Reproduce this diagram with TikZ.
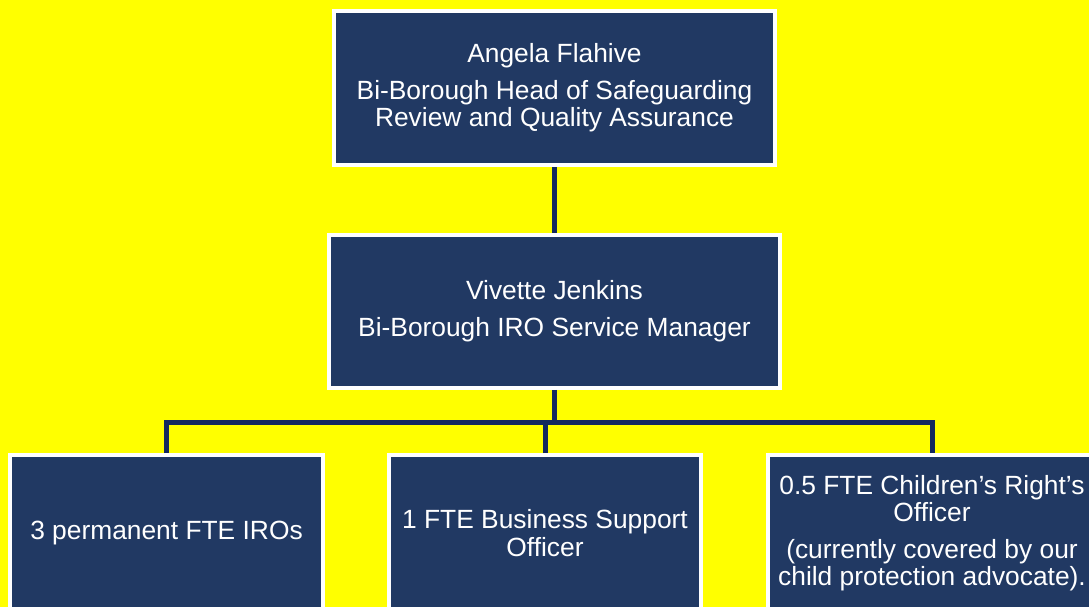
\documentclass[tikz,border=0pt]{standalone}
\usepackage{fontspec}
\setmainfont{Liberation Sans}
\usepackage{xcolor}
\usepackage{tikz}
\usetikzlibrary{positioning,calc}

\definecolor{bgyellow}{HTML}{FFFF00}
\definecolor{boxnavy}{HTML}{213963}
\definecolor{linenavy}{HTML}{14295E}

\begin{document}
\begin{tikzpicture}[
  x=0.02cm, y=-0.02cm,
  post/.style={draw=white, line width=0.08cm, fill=boxnavy, text=white,
    align=center, inner sep=0pt, font=\fontsize{15}{15.5}\selectfont},
  conn/.style={draw=linenavy, line width=0.1cm},
]
% Background and page size
\fill[bgyellow] (0,0) rectangle (1089,607);
\useasboundingbox (0,0) rectangle (1089,607);
\clip (0,0) rectangle (1089,607);

% Posts
\node[post, minimum width=8.82cm, minimum height=3.1cm] (head) at (554.5,88)
  {Angela Flahive\\[5.5pt]Bi-Borough Head of Safeguarding\\Review and Quality Assurance};
\node[post, minimum width=9.02cm, minimum height=3.06cm] (mgr) at (554.5,311.5)
  {Vivette Jenkins\\[5.5pt]Bi-Borough IRO Service Manager};
\node[post, minimum width=6.26cm, minimum height=3.12cm] (iros) at (166.5,533)
  {3 permanent FTE IROs};
\node[post, minimum width=6.24cm, minimum height=3.12cm] (support) at (545,533)
  {1 FTE Business Support\\Officer};
\node[post, minimum width=6.56cm, minimum height=3.12cm] (cro) at (932,533)
  {0.5 FTE Children’s Right’s\\Officer\\[5.5pt](currently covered by our\\child protection advocate).};

% Reporting lines
\coordinate (bus) at (554.5,423);
\draw[conn] (head.south) -- (mgr.north);
\draw[conn] (mgr.south) -- (bus);
\draw[conn] (iros.north) |- (bus) -| (cro.north);
\draw[conn] (support.north) -- (support.north |- bus);
\end{tikzpicture}
\end{document}
